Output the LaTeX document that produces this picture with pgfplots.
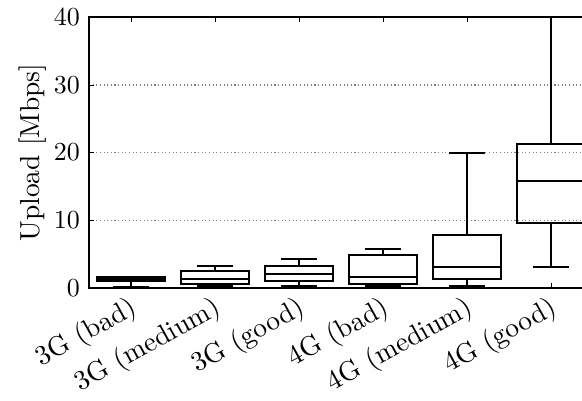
\documentclass[border=0pt]{standalone}
\usepackage{pgfplots}
\pgfplotsset{compat=1.18}
\usepgfplotslibrary{statistics}
\begin{document}
\begin{tikzpicture}
\clip (-34.27pt,-43.12pt) rectangle (189.8pt,110.9pt);
\begin{axis}[
  scale only axis,
  width=194.04pt, height=104.3pt,
  xmin=-0.5, xmax=5.5,
  ymin=0, ymax=40,
  ytick={0,10,20,30,40},
  xtick={0,1,2,3,4,5},
  xticklabels={3G (bad),3G (medium),3G (good),4G (bad),4G (medium),4G (good)},
  xticklabel style={rotate=29, anchor=north east, inner sep=1pt, yshift=-0.5pt, xshift=-1pt, font=\fontsize{10.6}{12}\selectfont},
  ylabel={Upload [Mbps]},
  ylabel style={yshift=-4pt, font=\fontsize{10.6}{12}\selectfont},
  ymajorgrids,
  grid style={densely dotted, gray, line width=0.5pt},
  major tick length=2pt,
  tick style={black},
  axis line style={line width=0.6pt},
  boxplot/draw direction=y,
  boxplot/box extend=0.81,
  boxplot/whisker extend=0.42,
]
\addplot[black, line width=0.7pt, boxplot prepared={draw position=0, lower whisker=0.1, lower quartile=1.0, median=1.3, upper quartile=1.6, upper whisker=1.7}] coordinates {};
\addplot[black, line width=0.7pt, boxplot prepared={draw position=1, lower whisker=0.3, lower quartile=0.6, median=1.33, upper quartile=2.5, upper whisker=3.25}] coordinates {};
\addplot[black, line width=0.7pt, boxplot prepared={draw position=2, lower whisker=0.3, lower quartile=1.03, median=2.07, upper quartile=3.25, upper whisker=4.28}] coordinates {};
\addplot[black, line width=0.7pt, boxplot prepared={draw position=3, lower whisker=0.3, lower quartile=0.6, median=1.6, upper quartile=4.87, upper whisker=5.75}] coordinates {};
\addplot[black, line width=0.7pt, boxplot prepared={draw position=4, lower whisker=0.3, lower quartile=1.3, median=3.1, upper quartile=7.8, upper whisker=19.9}] coordinates {};
\addplot[black, line width=0.7pt, boxplot prepared={draw position=5, lower whisker=3.1, lower quartile=9.6, median=15.8, upper quartile=21.25, upper whisker=40}] coordinates {};
\end{axis}
\end{tikzpicture}
\end{document}
